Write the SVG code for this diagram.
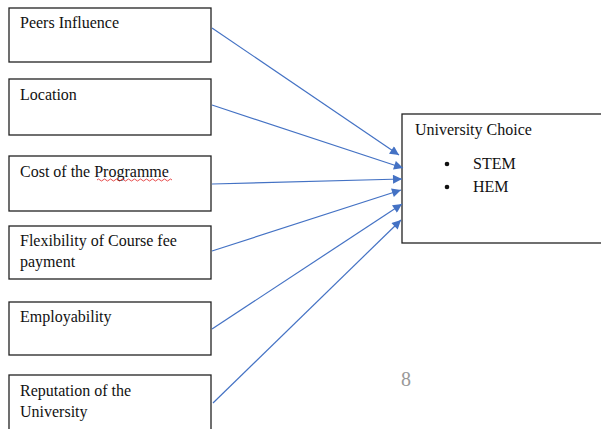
<svg xmlns="http://www.w3.org/2000/svg" width="601" height="429" viewBox="0 0 601 429">
<style>
.box{fill:#fff;stroke:#222;stroke-width:1.3}
.t{font-family:'Liberation Serif','Times New Roman',serif;font-size:16px;fill:#111}
.c{stroke:#4472C4;stroke-width:1.2;fill:none}
</style>
<defs>
<marker id="ah" viewBox="0 0 10 10" refX="10" refY="5" markerWidth="10" markerHeight="9" markerUnits="userSpaceOnUse" orient="auto">
<path d="M0,0 L10,5 L0,10 z" fill="#4472C4"/>
</marker>
</defs>
<rect width="601" height="429" fill="#fff"/>
<g id="peers"><rect class="box" x="9" y="8" width="202" height="54"/><text class="t" x="20" y="28">Peers Influence</text></g>
<g id="location"><rect class="box" x="9" y="79" width="202" height="56"/><text class="t" x="20" y="100">Location</text></g>
<g id="cost"><rect class="box" x="9" y="156" width="202" height="55"/><text class="t" x="20" y="177">Cost of the Programme</text>
<path d="M97,180 q1.5,-2 3,0 t3,0 t3,0 t3,0 t3,0 t3,0 t3,0 t3,0 t3,0 t3,0 t3,0 t3,0 t3,0 t3,0 t3,0 t3,0 t3,0 t3,0 t3,0 t3,0 t3,0 t3,0 t3,0 t3,0 t3,0" fill="none" stroke="#e02020" stroke-width="0.8"/></g>
<g id="flexibility"><rect class="box" x="9" y="226" width="202" height="53"/><text class="t" x="20" y="246">Flexibility of Course fee</text><text class="t" x="20" y="267">payment</text></g>
<g id="employability"><rect class="box" x="9" y="302" width="202" height="53"/><text class="t" x="20" y="322">Employability</text></g>
<g id="reputation"><rect class="box" x="9" y="375" width="202" height="60"/><text class="t" x="20" y="396">Reputation of the</text><text class="t" x="20" y="417">University</text></g>
<g id="choice"><rect class="box" x="402" y="114" width="210" height="129"/><text class="t" x="415" y="135">University Choice</text>
<circle cx="447" cy="164" r="2.3" fill="#111"/><text class="t" x="473" y="169">STEM</text>
<circle cx="447" cy="187" r="2.3" fill="#111"/><text class="t" x="473" y="192">HEM</text></g>
<g id="connectors">
<line class="c" x1="212" y1="28" x2="399" y2="155" marker-end="url(#ah)"/>
<line class="c" x1="212" y1="105" x2="403" y2="168" marker-end="url(#ah)"/>
<line class="c" x1="212" y1="184" x2="402" y2="179" marker-end="url(#ah)"/>
<line class="c" x1="212" y1="251" x2="401" y2="190" marker-end="url(#ah)"/>
<line class="c" x1="212" y1="329" x2="402" y2="204" marker-end="url(#ah)"/>
<line class="c" x1="213" y1="403" x2="401" y2="220" marker-end="url(#ah)"/>
</g>
<text x="401" y="386" font-family="'Liberation Serif', serif" font-size="20" fill="#999">8</text>
</svg>
